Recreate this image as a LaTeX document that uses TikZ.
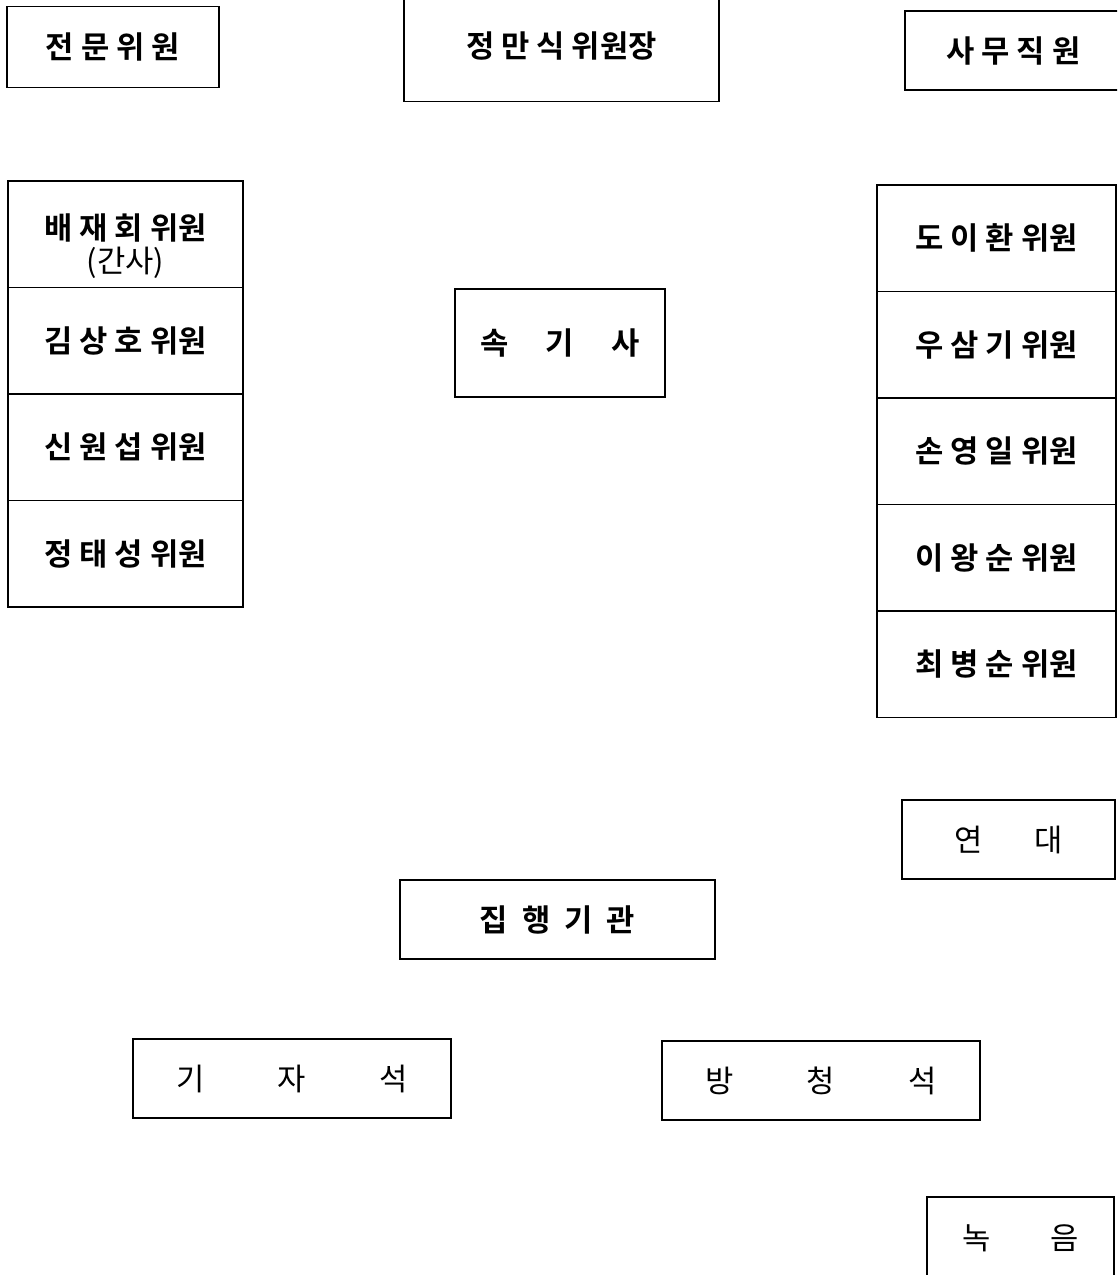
\documentclass[tikz,border=0pt]{standalone}
\usepackage{fontspec}
\newfontfamily\kr{Noto Sans CJK KR}[BoldFont={Noto Sans CJK KR Bold}]
\usepackage{tikz}
\usetikzlibrary{positioning}

\begin{document}
\begin{tikzpicture}[x=0.02cm, y=-0.02cm, node distance=0pt,
    every node/.style={font=\kr\bfseries\fontsize{17.5}{17.5}\selectfont, line width=1pt, inner sep=0pt, outer sep=0pt},
    seat/.style={draw, minimum width=4.7cm, minimum height=2.13cm},
    desk/.style={draw, minimum height=1.58cm},
    lighttext/.style={font=\kr\fontsize{17.5}{17.5}\selectfont}]
  \useasboundingbox (0,0) rectangle (1117,1275);
  \clip (0,0) rectangle (1117,1275);
  % front row
  \node[desk,minimum width=4.24cm,minimum height=1.62cm] (expert) at (113,47) {전 문 위 원};
  \node[desk,minimum width=6.3cm,minimum height=2.22cm] (chair) at (561.5,46) {정 만 식 위원장};
  \node[desk,minimum width=4.34cm] (staff) at (1013.5,50.5) {사 무 직 원};
  % left members
  \node[seat,anchor=north,align=center,font=\kr\bfseries\fontsize{17.5}{18.5}\selectfont] (bae) at (125.5,181) {\rule{0pt}{1cm}배 재 회 위원\\{\mdseries (간사)}};
  \node[seat,below=of bae] (kim) {김 상 호 위원};
  \node[seat,below=of kim] (shin) {신 원 섭 위원};
  \node[seat,below=of shin] (jeong) {정 태 성 위원};
  % right members
  \node[seat,anchor=north,minimum width=4.78cm] (do) at (996.5,185) {도 이 환 위원};
  \node[seat,minimum width=4.78cm,below=of do] (woo) {우 삼 기 위원};
  \node[seat,minimum width=4.78cm,below=of woo] (son) {손 영 일 위원};
  \node[seat,minimum width=4.78cm,below=of son] (lee) {이 왕 순 위원};
  \node[seat,minimum width=4.78cm,below=of lee] (choi) {최 병 순 위원};
  % centre and back
  \node[desk,minimum width=4.2cm,minimum height=2.16cm] (steno) at (560,343) {속\hspace{0.74cm}기\hspace{0.74cm}사};
  \node[desk,lighttext,minimum width=4.26cm] (yeondae) at (1008.5,839.5) {연\hspace{1.04cm}대};
  \node[desk,minimum width=6.3cm] (exec) at (557.5,919.5) {집\hspace{0.28cm}행\hspace{0.28cm}기\hspace{0.28cm}관};
  \node[desk,lighttext,minimum width=6.36cm] (press) at (292,1078.5) {기\hspace{1.46cm}자\hspace{1.46cm}석};
  \node[desk,lighttext,minimum width=6.36cm] (gallery) at (821,1080.5) {방\hspace{1.46cm}청\hspace{1.46cm}석};
  \node[desk,lighttext,minimum width=3.74cm,minimum height=1.66cm] (record) at (1020.5,1238.5) {녹\hspace{1.2cm}음};
\end{tikzpicture}
\end{document}
